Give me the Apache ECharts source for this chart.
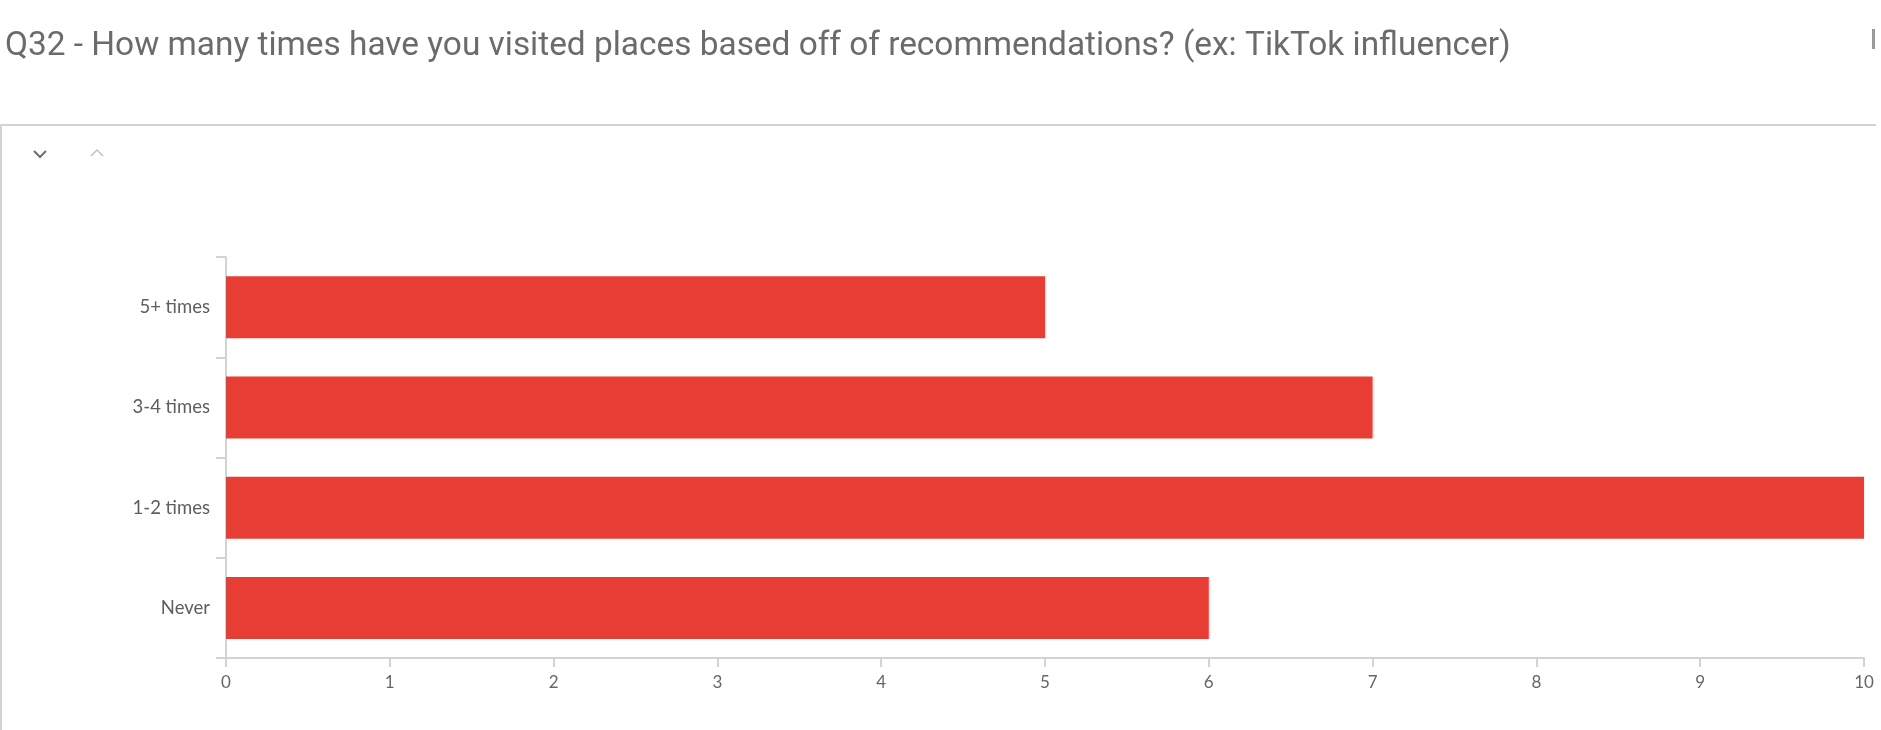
<!DOCTYPE html>
<html>
<head>
<meta charset="utf-8">
<title>Q32 - Visits based on recommendations</title>
<script src="https://cdn.jsdelivr.net/npm/echarts@6/dist/echarts.min.js"></script>
<style>
  html, body { margin: 0; padding: 0; background: #ffffff; }
  #chart { width: 1881px; height: 730px; }
</style>
</head>
<body>
<div id="chart"></div>
<script>
// Survey question and answer counts
const questionTitle = 'Q32 - How many times have you visited places based off of recommendations? (ex: TikTok influencer)';
const categories = ['Never', '1-2 times', '3-4 times', '5+ times'];
const responseCounts = [6, 10, 7, 5];
const axisTicks = [0, 1, 2, 3, 4, 5, 6, 7, 8, 9, 10];

const chart = echarts.init(document.getElementById('chart'), null, { renderer: 'canvas' });

const borderColor = '#d3d3d3';

chart.setOption({
  backgroundColor: '#ffffff',
  animation: false,
  title: {
    text: questionTitle,
    left: 0,
    top: 25,
    textStyle: {
      fontFamily: 'Roboto, "Liberation Sans", sans-serif',
      fontSize: 33.4,
      fontWeight: 'normal',
      color: '#6b6b6b'
    }
  },
  graphic: [
    // panel top divider
    { type: 'rect', shape: { x: 0, y: 124, width: 1876, height: 2 }, style: { fill: borderColor }, silent: true },
    // panel left border
    { type: 'rect', shape: { x: 0, y: 124, width: 2, height: 606 }, style: { fill: borderColor }, silent: true },
    // partially visible control at the top right
    { type: 'rect', shape: { x: 1872, y: 29, width: 3, height: 20 }, style: { fill: '#9a9a9a' }, silent: true },
    // collapse / expand chevrons
    { type: 'polyline', shape: { points: [[34, 151], [40, 157], [46, 151]] },
      style: { stroke: '#6f6f6f', lineWidth: 2, fill: null }, silent: true },
    { type: 'polyline', shape: { points: [[91, 156], [97, 150], [103, 156]] },
      style: { stroke: '#c2c2c2', lineWidth: 1.5, fill: null }, silent: true }
  ],
  grid: {
    left: 226,
    right: 17,
    top: 257,
    bottom: 72,
    containLabel: false
  },
  xAxis: {
    type: 'value',
    min: axisTicks[0],
    max: axisTicks[axisTicks.length - 1],
    interval: 1,
    axisLine: { show: true, lineStyle: { color: borderColor, width: 2 } },
    axisTick: { show: true, length: 9, lineStyle: { color: borderColor, width: 2 } },
    splitLine: { show: false },
    axisLabel: {
      margin: 16,
      fontFamily: 'Lato, "Open Sans", sans-serif',
      fontSize: 17,
      color: '#666666',
      showMaxLabel: true,
      showMinLabel: true
    }
  },
  yAxis: {
    type: 'category',
    data: categories,
    axisLine: { show: true, lineStyle: { color: borderColor, width: 2 } },
    axisTick: { show: true, length: 10, alignWithLabel: false, lineStyle: { color: borderColor, width: 2 } },
    axisLabel: {
      margin: 16,
      fontFamily: 'Lato, "Open Sans", sans-serif',
      fontSize: 18.5,
      color: '#5e5e5e'
    }
  },
  series: [{
    type: 'bar',
    data: responseCounts,
    barWidth: 62,
    itemStyle: { color: '#e73d35' },
    emphasis: { disabled: true }
  }]
});
</script>
</body>
</html>
